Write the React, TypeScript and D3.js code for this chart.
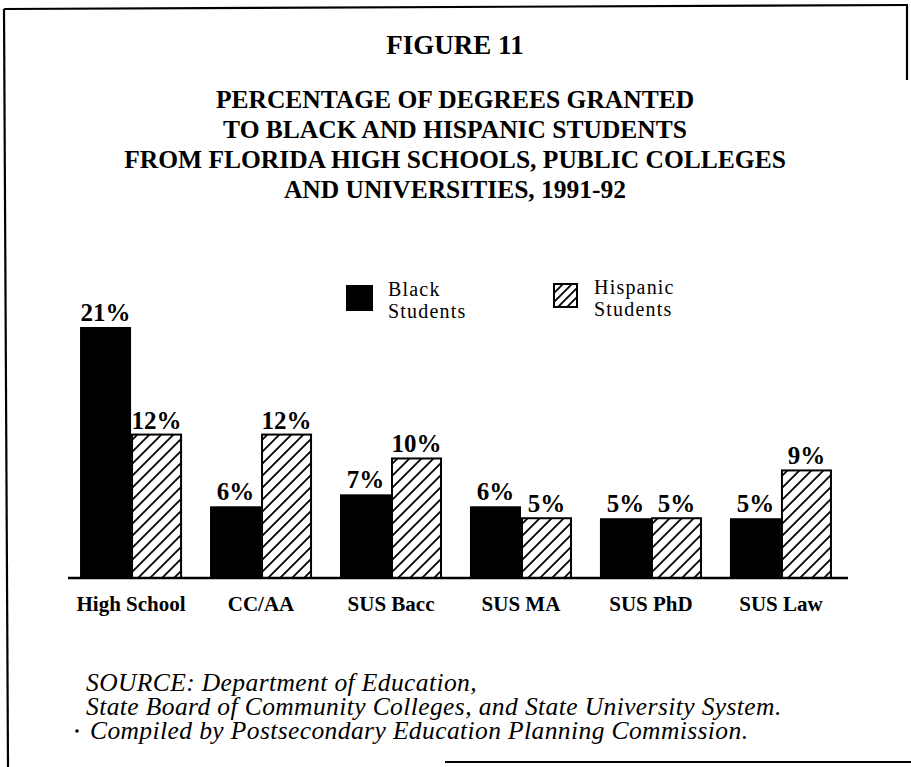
import React from "react";
import * as d3 from "d3";

const categories = ["High School", "CC/AA", "SUS Bacc", "SUS MA", "SUS PhD", "SUS Law"];
const blackValues = [21, 6, 7, 6, 5, 5];
const hispanicValues = [12, 12, 10, 5, 5, 9];
const seriesKeys = ["black", "hispanic"];
const legendLabels = [["Black", "Students"], ["Hispanic", "Students"]];
const figureLabel = "FIGURE 11";
const titleLines = [
  "PERCENTAGE OF DEGREES GRANTED",
  "TO BLACK AND HISPANIC STUDENTS",
  "FROM FLORIDA HIGH SCHOOLS, PUBLIC COLLEGES",
  "AND UNIVERSITIES, 1991-92",
];
const sourceLines = [
  "SOURCE: Department of Education,",
  "State Board of Community Colleges, and State University System.",
  "Compiled by Postsecondary Education Planning Commission.",
];

const W = 911;
const H = 767;
const serif = "'Liberation Serif', 'Times New Roman', Times, serif";

export default function App() {
  const x = d3
    .scaleBand<string>()
    .domain(categories)
    .range([66, 846])
    .paddingInner(0.215)
    .paddingOuter(0.108);
  const xs = d3.scaleBand<string>().domain(seriesKeys).range([0, x.bandwidth()]);
  const y = d3.scaleLinear().domain([0, 21]).range([578, 327]);

  const data = categories.map((c, i) => ({
    cat: c,
    vals: [blackValues[i], hispanicValues[i]],
  }));

  return (
    <svg
      width={W}
      height={H}
      style={{ position: "absolute", left: 0, top: 0, background: "#fff" }}
      fontFamily={serif}
    >
      <defs>
        <pattern id="hatch" patternUnits="userSpaceOnUse" width={12} height={12}>
          <path d="M-2,2 l4,-4 M0,12 l12,-12 M10,14 l4,-4" stroke="#000" strokeWidth={1.8} />
        </pattern>
        <pattern id="hatchL" patternUnits="userSpaceOnUse" width={9} height={9} x={554} y={284}>
          <path d="M-2,2 l4,-4 M0,9 l9,-9 M7,11 l4,-4" stroke="#000" strokeWidth={1.8} />
        </pattern>
      </defs>
      <rect x={0} y={0} width={W} height={H} fill="#fff" />

      {/* frame */}
      <line x1={4} y1={9} x2={8} y2={767} stroke="#000" strokeWidth={2.2} />
      <line x1={4} y1={9} x2={908} y2={5} stroke="#000" strokeWidth={2.2} />
      <line x1={907} y1={5} x2={907} y2={80} stroke="#000" strokeWidth={2.2} />
      <line x1={445} y1={762} x2={911} y2={762} stroke="#000" strokeWidth={2} />

      {/* titles */}
      <text x={455} y={54} textAnchor="middle" fontWeight="bold" fontSize={27}>
        {figureLabel}
      </text>
      {titleLines.map((t, i) => (
        <text
          key={t}
          x={455}
          y={108 + i * 30}
          textAnchor="middle"
          fontWeight="bold"
          fontSize={25.5}
        >
          {t}
        </text>
      ))}

      {/* legend */}
      <rect x={346} y={285} width={27} height={26} fill="#000" />
      <text fontSize={20} letterSpacing={1.2} x={388} y={296}>
        {legendLabels[0][0]}
      </text>
      <text fontSize={20} letterSpacing={1.2} x={388} y={318}>
        {legendLabels[0][1]}
      </text>
      <rect x={554} y={284} width={23} height={23} fill="url(#hatchL)" stroke="#000" strokeWidth={2} />
      <text fontSize={20} letterSpacing={1.2} x={594} y={294}>
        {legendLabels[1][0]}
      </text>
      <text fontSize={20} letterSpacing={1.2} x={594} y={316}>
        {legendLabels[1][1]}
      </text>

      {/* bars */}
      {data.map((d) => (
        <g key={d.cat} transform={`translate(${x(d.cat)},0)`}>
          {d.vals.map((v, j) => {
            const bx = xs(seriesKeys[j]) as number;
            const bw = xs.bandwidth();
            const top = y(v);
            return (
              <g key={j}>
                {j === 0 ? (
                  <rect x={bx} y={top} width={bw} height={y(0) - top} fill="#000" />
                ) : (
                  <rect
                    x={bx + 1}
                    y={top}
                    width={bw - 2}
                    height={y(0) - top}
                    fill="url(#hatch)"
                    stroke="#000"
                    strokeWidth={2}
                  />
                )}
                <text
                  x={bx + bw / 2}
                  y={top - 6}
                  textAnchor="middle"
                  fontWeight="bold"
                  fontSize={25}
                >
                  {v}%
                </text>
              </g>
            );
          })}
          <text
            x={x.bandwidth() / 2}
            y={611}
            textAnchor="middle"
            fontWeight="bold"
            fontSize={21}
          >
            {d.cat}
          </text>
        </g>
      ))}

      {/* baseline */}
      <line x1={68} y1={y(0)} x2={848} y2={y(0)} stroke="#000" strokeWidth={2.5} />

      {/* source */}
      {sourceLines.map((s, i) => (
        <text
          key={s}
          x={i === 2 ? 90 : 86}
          y={691 + i * 24}
          fontStyle="italic"
          fontSize={25.5}
          letterSpacing={0.4}
        >
          {s}
        </text>
      ))}
      <circle cx={77} cy={731} r={1.8} fill="#000" />
    </svg>
  );
}
